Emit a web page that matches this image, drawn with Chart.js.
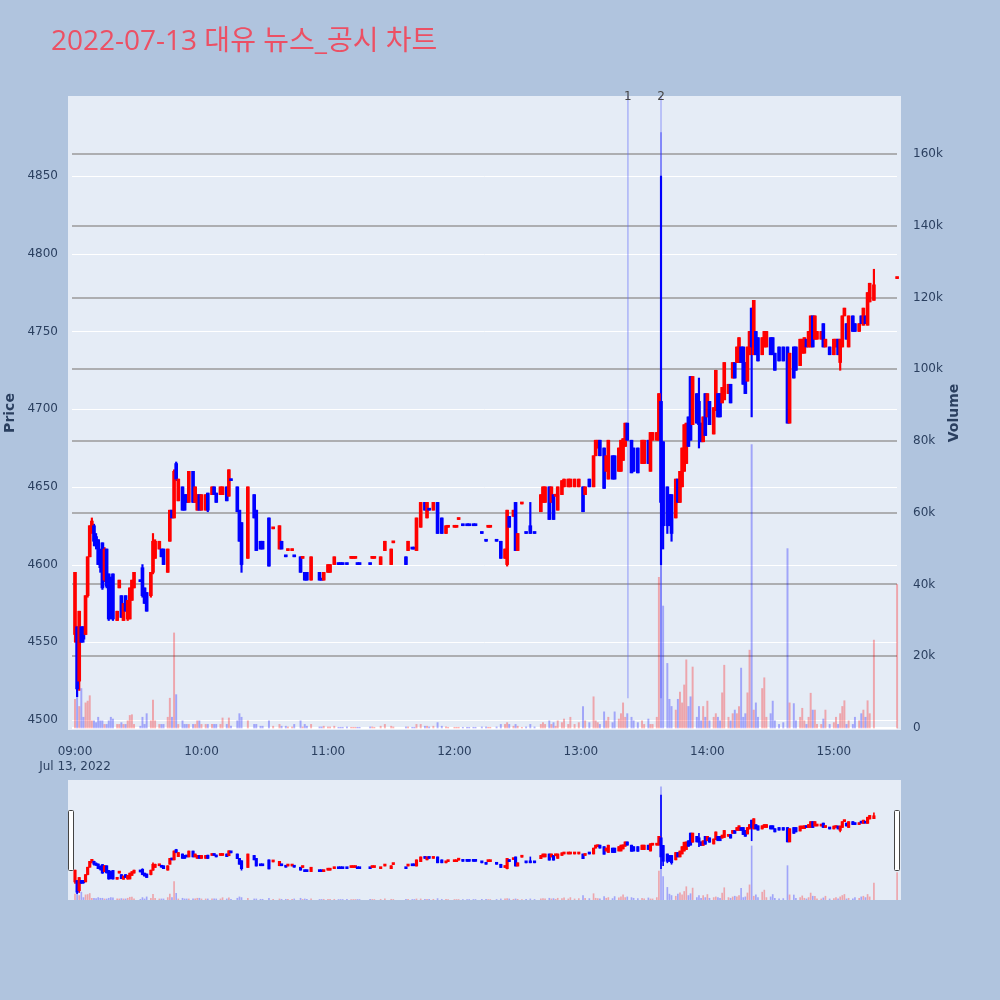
<!DOCTYPE html>
<html>
<head>
<meta charset="utf-8">
<script src="https://cdn.jsdelivr.net/npm/chart.js@4.4.1/dist/chart.umd.min.js"></script>
<style>
  html,body{margin:0;padding:0;background:#b0c4de;}
  #wrap{position:relative;width:1000px;height:1000px;}
  #main{position:absolute;left:0;top:0;}
  #slider{position:absolute;left:68px;top:780px;}
</style>
</head>
<body>
<div id="wrap">
  <canvas id="main" width="1000" height="1000"></canvas>
  <canvas id="slider" width="833" height="120"></canvas>
</div>
<script>
(function(){
  // minutes after 09:00
  const minutes = [
    0,1,2,3,4,5,6,7,8,9,
    10,11,12,13,14,15,16,17,18,20,
    21,22,23,24,25,26,27,28,31,32,
    33,34,36,37,38,40,41,42,44,45,
    46,47,48,49,51,52,53,54,56,57,
    58,59,60,62,63,65,66,67,69,70,
    72,73,74,77,78,79,82,85,86,88,
    89,92,94,97,98,100,101,103,104,107,
    108,109,110,112,116,117,118,120,121,123,
    125,126,127,129,131,132,133,134,135,140,
    141,142,145,147,150,151,157,158,160,161,
    162,164,166,167,168,170,172,174,176,177,
    180,181,182,184,186,187,189,190,193,195,
    196,197,200,202,204,205,206,208,209,210,
    212,214,216,218,221,222,223,225,226,227,
    228,229,231,232,234,235,237,239,241,242,
    244,246,247,248,249,251,252,253,255,256,
    258,259,260,261,262,264,265,267,269,270,
    272,273,274,276,277,278,279,281,282,283,
    285,286,287,288,289,290,291,292,293,295,
    296,297,298,299,300,301,303,304,305,306,
    307,308,310,311,312,313,314,315,316,317,
    318,319,320,321,322,323,324,326,327,328,
    330,331,332,334,336,338,339,341,342,344,
    345,346,347,348,349,350,351,352,354,355,
    356,358,360,361,362,363,364,365,366,367,
    369,370,372,373,374,375,376,377,379,390
  ];
  const opens = [
    4555,4560,4525,4560,4560,4555,4580,4605,4625,4625,
    4618,4616,4608,4614,4590,4610,4594,4590,4594,4564,
    4585,4580,4564,4580,4565,4565,4577,4585,4590,4598,
    4585,4582,4580,4595,4604,4610,4610,4610,4595,4615,
    4635,4630,4665,4641,4650,4645,4645,4640,4660,4640,
    4635,4645,4635,4635,4646,4645,4650,4646,4645,4645,
    4650,4644,4655,4650,4635,4627,4604,4645,4635,4615,
    4615,4630,4623,4610,4615,4606,4609,4609,4606,4605,
    4604,4595,4595,4590,4595,4591,4590,4595,4595,4600,
    4601,4601,4601,4601,4604,4604,4604,4601,4601,4601,
    4604,4604,4600,4609,4600,4614,4605,4609,4611,4611,
    4609,4624,4640,4630,4636,4635,4640,4630,4620,4624,
    4624,4624,4629,4626,4626,4626,4626,4626,4621,4616,
    4624,4624,4616,4615,4604,4600,4631,4631,4640,4609,
    4639,4621,4625,4621,4634,4640,4640,4650,4640,4645,
    4644,4635,4645,4650,4650,4650,4650,4650,4650,4645,
    4655,4650,4670,4675,4680,4675,4660,4655,4670,4670,
    4660,4660,4667,4676,4691,4680,4675,4675,4665,4665,
    4680,4660,4680,4680,4680,4705,4679,4650,4645,4645,
    4630,4655,4640,4650,4660,4665,4695,4721,4690,4710,
    4705,4691,4679,4710,4695,4705,4684,4699,4710,4710,
    4704,4706,4710,4716,4720,4730,4730,4730,4740,4740,
    4730,4718,4735,4765,4735,4750,4746,4735,4740,4740,
    4746,4746,4736,4740,4740,4740,4691,4740,4740,4728,
    4736,4736,4745,4740,4740,4760,4745,4745,4745,4755,
    4740,4740,4735,4740,4745,4730,4740,4760,4755,4740,
    4760,4755,4750,4760,4754,4760,4754,4769,4770,4784
  ];
  const highs = [
    4595,4560,4570,4560,4560,4580,4605,4625,4630,4626,
    4620,4616,4610,4614,4611,4610,4594,4592,4594,4570,
    4590,4580,4575,4580,4577,4585,4590,4595,4590,4600,
    4585,4582,4595,4620,4616,4615,4610,4610,4610,4635,
    4635,4661,4666,4655,4650,4645,4645,4660,4660,4650,
    4645,4645,4645,4645,4646,4650,4650,4646,4650,4650,
    4650,4661,4655,4650,4635,4627,4650,4645,4635,4615,
    4615,4630,4624,4625,4615,4606,4610,4610,4606,4605,
    4605,4595,4595,4605,4595,4591,4595,4600,4600,4605,
    4601,4601,4601,4601,4605,4605,4605,4601,4601,4601,
    4605,4605,4605,4615,4610,4615,4605,4615,4611,4611,
    4630,4640,4640,4640,4636,4640,4640,4630,4625,4625,
    4625,4625,4630,4626,4626,4626,4626,4626,4621,4616,
    4625,4625,4616,4615,4610,4635,4631,4635,4640,4620,
    4640,4621,4640,4621,4645,4650,4650,4650,4650,4645,
    4645,4650,4654,4655,4655,4655,4655,4655,4650,4650,
    4655,4670,4680,4680,4680,4675,4670,4680,4670,4670,
    4675,4680,4681,4691,4691,4680,4675,4675,4680,4680,
    4680,4685,4685,4685,4710,4850,4679,4650,4645,4645,
    4655,4655,4660,4675,4690,4691,4695,4721,4721,4710,
    4720,4691,4695,4710,4710,4705,4701,4725,4710,4710,
    4714,4730,4716,4716,4730,4730,4740,4746,4740,4740,
    4730,4740,4750,4765,4770,4750,4746,4746,4750,4750,
    4746,4746,4736,4740,4740,4740,4736,4740,4740,4745,
    4745,4746,4745,4750,4760,4760,4760,4750,4750,4755,
    4745,4740,4745,4745,4745,4745,4760,4765,4755,4760,
    4760,4755,4755,4760,4765,4760,4775,4781,4790,4785
  ];
  const lows = [
    4550,4515,4519,4550,4550,4555,4579,4605,4620,4612,
    4610,4600,4595,4584,4589,4585,4564,4565,4564,4564,
    4585,4566,4564,4570,4564,4565,4577,4585,4589,4579,
    4575,4570,4579,4594,4604,4610,4605,4600,4595,4615,
    4630,4630,4654,4641,4635,4635,4640,4640,4640,4640,
    4635,4635,4635,4635,4634,4645,4645,4640,4645,4645,
    4641,4644,4654,4634,4615,4595,4604,4630,4609,4610,
    4610,4599,4623,4610,4610,4605,4609,4609,4605,4595,
    4604,4590,4590,4590,4590,4590,4590,4595,4595,4600,
    4600,4600,4600,4600,4604,4604,4604,4600,4600,4600,
    4604,4604,4600,4609,4600,4614,4600,4609,4610,4610,
    4609,4624,4635,4630,4635,4635,4620,4620,4620,4624,
    4624,4624,4629,4625,4625,4625,4625,4625,4620,4615,
    4624,4624,4615,4604,4604,4599,4624,4631,4609,4609,
    4639,4620,4620,4620,4634,4640,4640,4629,4640,4629,
    4644,4635,4645,4650,4650,4650,4650,4650,4634,4645,
    4650,4650,4670,4675,4670,4649,4660,4655,4655,4655,
    4660,4660,4667,4676,4680,4659,4660,4659,4665,4665,
    4665,4660,4680,4680,4680,4600,4610,4620,4625,4615,
    4630,4640,4640,4650,4660,4665,4676,4680,4690,4691,
    4675,4679,4679,4683,4695,4690,4684,4699,4695,4695,
    4704,4706,4710,4704,4720,4720,4730,4730,4730,4716,
    4710,4718,4735,4695,4735,4735,4731,4735,4740,4740,
    4735,4735,4725,4731,4731,4691,4691,4720,4725,4728,
    4736,4736,4740,4740,4740,4740,4745,4745,4745,4740,
    4740,4735,4735,4740,4735,4725,4740,4760,4745,4740,
    4750,4750,4750,4755,4754,4755,4754,4769,4770,4784
  ];
  const closes = [
    4595,4520,4570,4550,4552,4580,4605,4625,4628,4615,
    4612,4600,4598,4585,4610,4586,4565,4566,4565,4570,
    4590,4566,4575,4570,4577,4585,4590,4595,4589,4580,
    4575,4570,4595,4615,4615,4615,4605,4600,4610,4635,
    4630,4660,4655,4655,4635,4635,4640,4660,4640,4650,
    4645,4635,4645,4645,4635,4650,4645,4640,4650,4650,
    4641,4661,4654,4634,4615,4600,4650,4630,4609,4610,
    4610,4599,4624,4625,4610,4605,4610,4610,4605,4595,
    4605,4590,4590,4605,4590,4590,4595,4600,4600,4605,
    4600,4600,4600,4600,4605,4605,4605,4600,4600,4600,
    4605,4605,4605,4615,4610,4615,4600,4615,4610,4610,
    4630,4640,4635,4640,4635,4640,4620,4620,4625,4625,
    4625,4625,4630,4625,4625,4625,4625,4625,4620,4615,
    4625,4625,4615,4604,4610,4635,4624,4635,4609,4620,
    4640,4620,4620,4620,4645,4650,4650,4629,4650,4629,
    4645,4650,4654,4655,4655,4655,4655,4655,4634,4650,
    4650,4670,4680,4680,4670,4649,4670,4680,4655,4655,
    4675,4680,4681,4691,4680,4659,4660,4659,4680,4680,
    4665,4685,4685,4685,4710,4640,4625,4625,4625,4620,
    4655,4640,4660,4675,4690,4691,4676,4680,4721,4691,
    4690,4679,4695,4683,4710,4690,4701,4725,4695,4695,
    4714,4730,4716,4704,4730,4720,4740,4746,4730,4716,
    4710,4740,4750,4740,4770,4735,4731,4746,4750,4750,
    4735,4735,4725,4731,4731,4691,4736,4720,4725,4745,
    4745,4746,4740,4750,4760,4740,4760,4750,4750,4740,
    4745,4735,4745,4745,4735,4745,4760,4765,4745,4760,
    4750,4750,4755,4755,4765,4755,4775,4781,4780,4785
  ];
  // volume in thousands of shares
  const volumesK = [
    8,10,6,11,3,7,7.5,9,2,2,
    1.5,3,2,2,1,1,2,3,2.5,1,
    1,1.5,1,1,2,3.5,3.7,1,0.5,3,
    1,4,2,7.8,2,1,1,1,3,8.3,
    3,26.5,9.3,1,2,1,1,1,1,1,
    2,2,1,1,1,1,1,1,1,2.8,
    1,2.8,0.5,2,4,3,2,1,1,0.5,
    0.5,2,0.5,1,0.5,0.5,0.3,0.3,1,2,
    0.3,1,0.5,1,0.3,0.3,0.5,0.3,0.3,0.5,
    0.2,0.2,0.2,0.3,0.2,0.2,0.2,0.2,0.2,0.3,
    0.3,0.2,0.5,1,0.5,0.3,0.3,0.3,0.2,0.2,
    1,1,0.5,0.5,0.3,0.5,1.5,0.5,0.3,0.2,
    0.2,0.2,0.2,0.2,0.2,0.2,0.2,0.2,0.3,0.3,
    0.2,0.2,0.3,1,1,1.5,1,0.5,1,0.5,
    0.2,0.3,1,0.3,1,1.5,1,2,1,1.5,
    0.5,2,1.5,2.5,1,3,1,1.5,6,2,
    1.5,8.7,2,1.5,1,4.5,2,3,1.5,4.5,
    2.5,4,7,3,4,3,2,1.5,2,1,
    2.5,1,1,3,42,166,34,18,8,6,
    5,8,10,7,12,19,6,8.7,17,3,
    6,2,6,3,7.5,2,3,4,3,2,
    9.8,17.5,3,2,4,5,4,6,16.7,3,
    4,9.8,21.7,79,5,7,3,11,14,3,
    4,7.5,2,1,1.5,50,7,6.8,2,3,
    5.5,2,1,3,9.7,5,5,1,1,2.5,
    5,1,1.5,3,1,4,6,7.6,1,2,
    1,3,2,4,5,3,7.6,4,24.5,40
  ];

  const hourMinutes = [0,60,120,180,240,300,360];
  const hourLabels = ['09:00','10:00','11:00','12:00','13:00','14:00','15:00'];
  const dateLabel = 'Jul 13, 2022';
  const priceTicks = [4500,4550,4600,4650,4700,4750,4800,4850];
  const volTicks = [0,20,40,60,80,100,120,140,160];
  const volTickLabels = ['0','20k','40k','60k','80k','100k','120k','140k','160k'];
  const newsMinutes = [262.3, 278];
  const newsLabels = ['1','2'];
  const TITLE = '2022-07-13 대유 뉴스_공시 차트';

  const X_MIN = -3.32, X_MAX = 391.85;
  const P_MIN = 4493.57, P_MAX = 4901.47;
  const V_MIN = -0.56, V_MAX = 176.17;

  const RED = '#ff0000', BLUE = '#0000ff';
  const TICK_FONT = '"DejaVu Sans", Verdana, sans-serif';
  const TITLE_FONT = '"Open Sans", "Noto Sans CJK KR", sans-serif';
  const TXT = '#2a3f5f';

  const up = (i)=> closes[i] >= opens[i];

  const plotBg = {
    id:'plotBg',
    beforeDraw(chart){
      const {ctx, chartArea:a} = chart;
      ctx.save(); ctx.fillStyle = '#e5ecf6';
      ctx.fillRect(a.left, a.top, a.right-a.left, a.bottom-a.top);
      ctx.restore();
    }
  };

  // grid lines, slightly inset from the plot edges like the original
  const gridLines = {
    id:'gridLines',
    beforeDatasetsDraw(chart){
      const {ctx, chartArea:a, scales:{y, yv}} = chart;
      const x0 = a.left + 4, x1 = a.right - 4;
      ctx.save();
      ctx.strokeStyle = '#ffffff'; ctx.lineWidth = 1;
      priceTicks.forEach(v=>{
        const py = Math.round(y.getPixelForValue(v)) + 0.5;
        ctx.beginPath(); ctx.moveTo(x0, py); ctx.lineTo(x1, py); ctx.stroke();
      });
      volTicks.forEach(v=>{
        const py = Math.round(yv.getPixelForValue(v));
        ctx.strokeStyle = v===0 ? '#ffffff' : '#9a9a9a';
        ctx.lineWidth = v===0 ? 2 : 1.6;
        ctx.beginPath(); ctx.moveTo(x0, py); ctx.lineTo(x1, py); ctx.stroke();
      });
      ctx.restore();
    }
  };

  const newsLines = {
    id:'newsLines',
    beforeDatasetsDraw(chart){
      const {ctx, chartArea:a, scales:{x}} = chart;
      const bottom = a.bottom - (a.bottom-a.top)*0.05;
      ctx.save();
      ctx.strokeStyle = 'rgba(99,110,250,0.45)'; ctx.lineWidth = 1.5;
      newsMinutes.forEach(m=>{
        const px = x.getPixelForValue(m);
        ctx.beginPath(); ctx.moveTo(px, a.top); ctx.lineTo(px, bottom); ctx.stroke();
      });
      ctx.restore();
    },
    afterDraw(chart){
      const {ctx, chartArea:a, scales:{x}} = chart;
      ctx.save();
      ctx.fillStyle = '#444'; ctx.font = '12px '+TICK_FONT;
      ctx.textAlign = 'center'; ctx.textBaseline = 'middle';
      newsMinutes.forEach((m,i)=> ctx.fillText(newsLabels[i], x.getPixelForValue(m), a.top+1));
      // title
      ctx.fillStyle = 'rgb(236,80,100)'; ctx.font = '28px '+TITLE_FONT;
      ctx.textAlign = 'left'; ctx.textBaseline = 'alphabetic';
      ctx.fillText(TITLE, 51, 50);
      // axis titles
      ctx.fillStyle = TXT; ctx.font = 'bold 14px '+TICK_FONT;
      ctx.textAlign = 'center'; ctx.textBaseline = 'middle';
      const mid = (a.top+a.bottom)/2;
      ctx.save(); ctx.translate(10, mid); ctx.rotate(-Math.PI/2); ctx.fillText('Price', 0, 0); ctx.restore();
      ctx.save(); ctx.translate(954, mid); ctx.rotate(-Math.PI/2); ctx.fillText('Volume', 0, 0); ctx.restore();
      ctx.restore();
    }
  };

  // fresh data arrays for each chart so the two charts do not share objects
  function datasets(bodyW, wickW, volW){
    const candleColors = minutes.map((m,i)=> up(i) ? RED : BLUE);
    const volColors = minutes.map((m,i)=> up(i) ? 'rgba(255,0,0,0.3)' : 'rgba(0,0,255,0.3)');
    return [
      {label:'Volume', yAxisID:'yv', backgroundColor:volColors, barThickness:volW, order:3,
       data: minutes.map((m,i)=> ({x:m, y:volumesK[i]}))},
      {label:'Wick', yAxisID:'y', backgroundColor:candleColors, barThickness:wickW, order:2,
       data: minutes.map((m,i)=> ({x:m, y:[lows[i], highs[i]]}))},
      {label:'Body', yAxisID:'y', backgroundColor:candleColors, barThickness:bodyW, minBarLength:2, order:1,
       data: minutes.map((m,i)=> ({x:m, y:[Math.min(opens[i],closes[i]), Math.max(opens[i],closes[i])]}))}
    ];
  }

  new Chart(document.getElementById('main'), {
    type:'bar',
    data:{ datasets: datasets(3, 1.5, 1.3) },
    options:{
      responsive:false, animation:false,
      layout:{ padding:{top:96, left:0, right:0, bottom:0} },
      datasets:{ bar:{ grouped:false, borderWidth:0 } },
      plugins:{ legend:{display:false}, tooltip:{enabled:false}, title:{display:false} },
      scales:{
        x:{
          type:'linear', min:X_MIN, max:X_MAX, offset:false,
          grid:{display:false}, border:{display:false},
          afterBuildTicks:(s)=>{ s.ticks = hourMinutes.map(v=>({value:v})); },
          afterFit:(s)=>{ s.height = 270; },
          ticks:{
            autoSkip:false, maxRotation:0, padding:7, color:TXT, font:{family:TICK_FONT, size:12},
            callback:(v,i)=> i===0 ? [hourLabels[0], dateLabel] : hourLabels[i]
          }
        },
        y:{
          type:'linear', position:'left', min:P_MIN, max:P_MAX,
          grid:{display:false}, border:{display:false},
          afterBuildTicks:(s)=>{ s.ticks = priceTicks.map(v=>({value:v})); },
          afterFit:(s)=>{ s.width = 68; },
          ticks:{ padding:2, color:TXT, font:{family:TICK_FONT, size:12}, callback:(v)=> String(v) }
        },
        yv:{
          type:'linear', position:'right', min:V_MIN, max:V_MAX,
          grid:{display:false}, border:{display:false},
          afterBuildTicks:(s)=>{ s.ticks = volTicks.map(v=>({value:v})); },
          afterFit:(s)=>{ s.width = 99; },
          ticks:{ padding:4, color:TXT, font:{family:TICK_FONT, size:12}, callback:(v,i)=> volTickLabels[i] }
        }
      }
    },
    plugins:[plotBg, gridLines, newsLines]
  });

  // range slider preview
  const handles = {
    id:'handles',
    afterDraw(chart){
      const {ctx, chartArea:a} = chart;
      ctx.save();
      ctx.fillStyle = '#ffffff'; ctx.strokeStyle = '#444'; ctx.lineWidth = 1;
      [a.left+0.5, a.right-6.5].forEach(hx=>{
        ctx.beginPath(); ctx.roundRect(hx, 30.5, 5, 60, 1); ctx.fill(); ctx.stroke();
      });
      ctx.restore();
    }
  };

  new Chart(document.getElementById('slider'), {
    type:'bar',
    data:{ datasets: datasets(2.5, 1, 1) },
    options:{
      responsive:false, animation:false,
      layout:{ padding:0 },
      datasets:{ bar:{ grouped:false, borderWidth:0 } },
      plugins:{ legend:{display:false}, tooltip:{enabled:false} },
      scales:{
        x:{ type:'linear', min:X_MIN, max:X_MAX, offset:false, display:false },
        y:{ type:'linear', min:P_MIN, max:P_MAX, display:false },
        yv:{ type:'linear', min:V_MIN, max:V_MAX, display:false }
      }
    },
    plugins:[plotBg, handles]
  });
})();
</script>
</body>
</html>
